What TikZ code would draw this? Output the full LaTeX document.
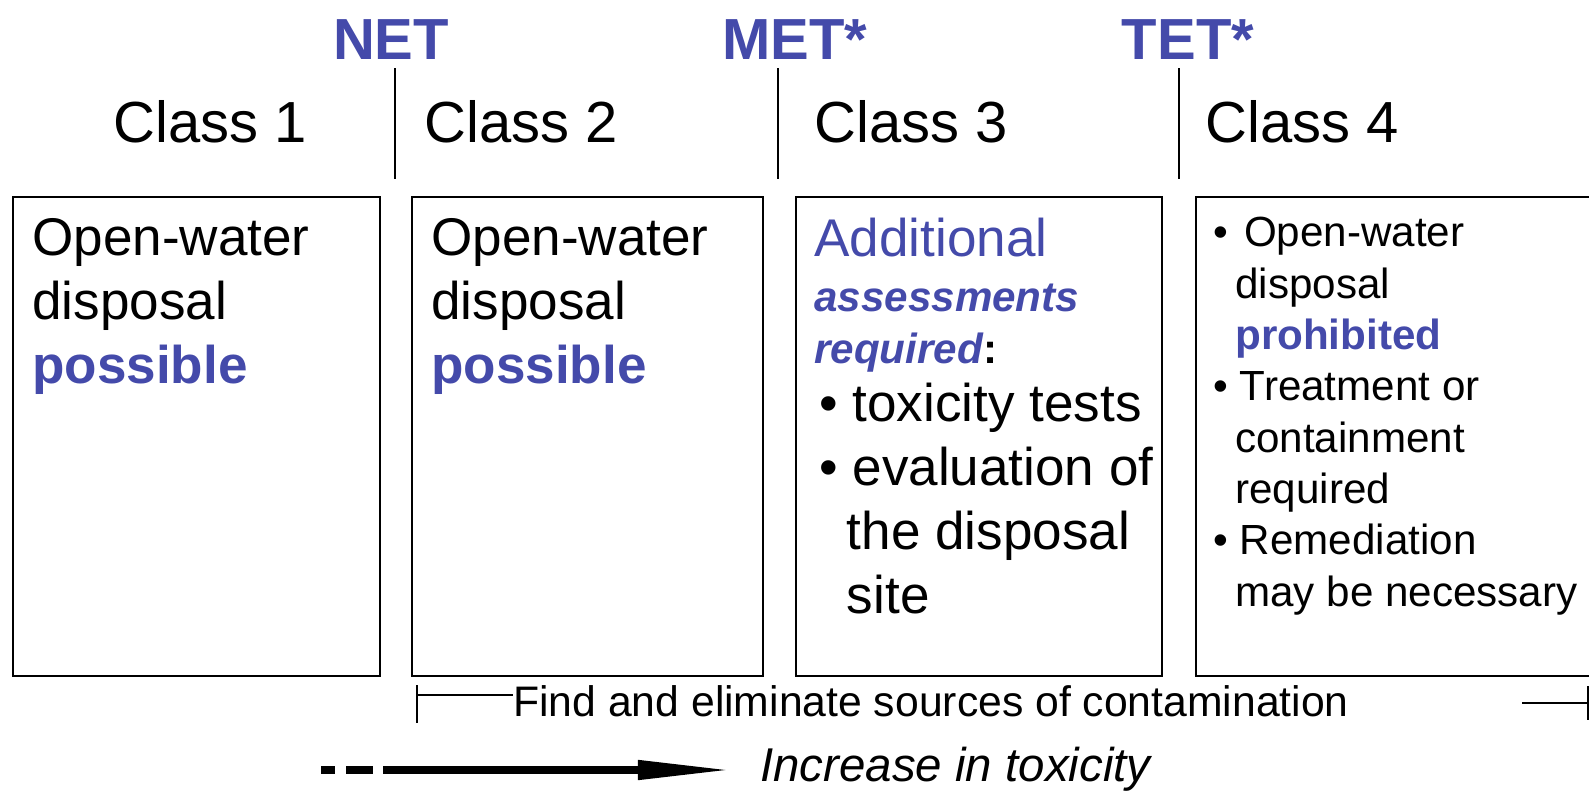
\documentclass[tikz,border=0pt]{standalone}
\usepackage{fontspec}
\setmainfont{Liberation Sans}
\usetikzlibrary{arrows.meta}
\definecolor{limitblue}{RGB}{68,74,170}
\newcommand{\bulletindent}{\hspace*{0.52em}}
\tikzset{box/.style = {draw, line width=1.1pt, anchor=north west, inner sep=0, minimum height=9.58cm}}
\tikzset{classlbl/.style = {anchor=base west, inner sep=0, font=\fontsize{33}{38}\selectfont}}
\tikzset{limit/.style = {anchor=base, inner sep=0, text=limitblue, font=\fontsize{33}{38}\selectfont\bfseries}}
\tikzset{bodytxt/.style = {anchor=base west, inner sep=0, align=left, font=\fontsize{30.2}{36.4}\selectfont}}
\tikzset{smalltxt/.style = {anchor=base west, inner sep=0, align=left, font=\fontsize{24}{29.2}\selectfont}}
\tikzset{divider/.style = {line width=0.9pt}}
\tikzset{bracket/.style = {line width=0.8pt}}
\tikzset{tox/.style = {line width=5.1pt}}

\begin{document}
\begin{tikzpicture}[x=0.02cm, y=-0.02cm]
    \useasboundingbox (0, 0) rectangle (1589, 791);
    \clip (0, 0) rectangle (1589, 791);
    \node [limit] (net) at (391, 59) {NET};
    \node [limit] (met) at (795, 59) {MET*};
    \node [limit] (tet) at (1188, 59) {TET*};
    \foreach \x in {395, 778, 1179}
      \draw [divider] (\x, 68) -- (\x, 179);
    \node [classlbl] (class1) at (113, 142) {Class 1};
    \node [classlbl] (class2) at (424, 142) {Class 2};
    \node [classlbl] (class3) at (814, 142) {Class 3};
    \node [classlbl] (class4) at (1205, 142) {Class 4};
    \node [box, minimum width=7.34cm] (box1) at (12, 196) {};
    \node [box, minimum width=7.02cm] (box2) at (411, 196) {};
    \node [box, minimum width=7.32cm] (box3) at (795, 196) {};
    \node [box, minimum width=8.4cm] (box4) at (1195, 196) {};
    \node [bodytxt] (text1) at (32, 383) {Open-water\\disposal\\\textcolor{limitblue}{\bfseries possible}};
    \node [bodytxt] (text2) at (431, 383) {Open-water\\disposal\\\textcolor{limitblue}{\bfseries possible}};
    \node [bodytxt, text=limitblue] (text3a) at (814, 256) {Additional};
    \node [smalltxt] (text3b) at (814, 363) {\textcolor{limitblue}{\bfseries\itshape assessments}\\\textcolor{limitblue}{\bfseries\itshape required}\textbf{:}};
    \node [bodytxt, font=\fontsize{30.2}{36.4}\selectfont] (text3c) at (819, 613) {\textbullet\ toxicity tests\\\textbullet\ evaluation of\\\bulletindent the disposal\\\bulletindent site};
    \node [smalltxt] (text4) at (1213, 606) {\textbullet\ \hspace{2.5pt}Open-water\\\bulletindent disposal\\\bulletindent\textcolor{limitblue}{\bfseries prohibited}\\\textbullet\ Treatment or\\\bulletindent containment\\\bulletindent required\\\textbullet\ Remediation\\\bulletindent may be necessary};
    \node [anchor=base west, inner sep=0, font=\fontsize{24.3}{28}\selectfont] (find) at (513, 716) {Find and eliminate sources of contamination};
    \coordinate (find0) at (417, 695);
    \coordinate (find1) at (1522, 703);
    \coordinate (find2) at (1588, 703);
    \draw [bracket] (417, 685) -- (417, 723);
    \draw [bracket] (find0) -- (find0 -| find.west);
    \draw [bracket] (find1) -- (find2);
    \draw [bracket] (1588, 686) -- (1588, 720);
    \draw [tox] (321, 770) -- (335, 770);
    \draw [tox] (346, 770) -- (373, 770);
    \coordinate (tox0) at (383, 770);
    \coordinate (tox1) at (738, 770);
    \draw [tox, -{Triangle[length=57pt, width=10pt]}] (tox0) -- (tox1);
    \node [anchor=base west, inner sep=0, font=\fontsize{27}{32}\selectfont\itshape] (toxtext) at (760, 781) {Increase in toxicity};
  \end{tikzpicture}
\end{document}
